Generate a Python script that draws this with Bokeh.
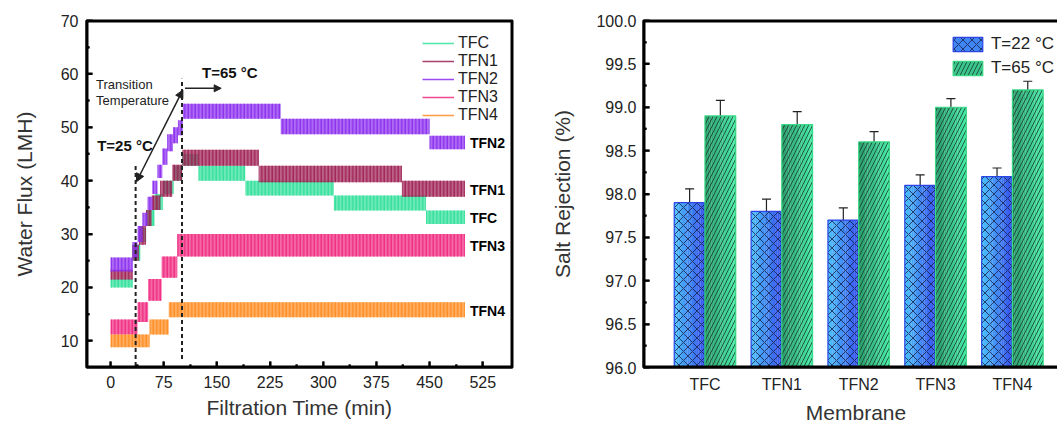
import numpy as np
from bokeh.plotting import figure
from bokeh.layouts import row
from bokeh.models import (Range1d, FixedTicker, Arrow, NormalHead, Legend, LegendItem,
                          Whisker, TeeHead, ColumnDataSource, NumeralTickFormatter)
from bokeh.embed import file_html
from bokeh.resources import INLINE
from bokeh.core.properties import value

FONT = "Liberation Sans"

# ---------------- Left panel data: flux bands (start, end [min], low, high [LMH]) --------------
tfc_start = [0, 31, 42, 50, 62, 74, 89, 101, 124, 190, 315, 445]
tfc_end   = [31, 42, 50, 62, 74, 89, 101, 124, 190, 315, 445, 500]
tfc_low   = [20.0, 25.0, 28.5, 31.5, 34.5, 37.5, 40.0, 42.8, 40.0, 37.2, 34.4, 31.9]
tfc_high  = [21.6, 28.0, 31.2, 34.5, 37.5, 40.0, 42.8, 45.0, 42.8, 40.0, 37.2, 34.4]

tfn1_start = [0, 31, 40, 50, 58, 70, 87, 101, 209, 411]
tfn1_end   = [31, 40, 50, 58, 70, 87, 101, 209, 411, 500]
tfn1_low   = [21.5, 25.0, 28.0, 31.5, 34.5, 37.0, 40.0, 42.8, 39.7, 37.0]
tfn1_high  = [23.3, 28.0, 31.5, 34.5, 37.2, 40.0, 43.0, 45.8, 42.8, 40.0]

tfn2_start = [0, 31, 38, 45, 52, 59, 66, 73, 80, 88, 95, 102, 240, 450]
tfn2_end   = [31, 38, 45, 52, 59, 66, 73, 80, 88, 95, 102, 240, 450, 500]
tfn2_low   = [23.0, 25.5, 28.5, 31.5, 34.5, 37.5, 40.5, 43.0, 45.5, 47.0, 48.5, 51.6, 48.7, 45.9]
tfn2_high  = [25.6, 28.5, 31.5, 34.0, 37.0, 40.0, 43.0, 46.0, 48.7, 50.0, 51.3, 54.4, 51.6, 48.4]

tfn3_start = [0, 38, 53, 72, 94]
tfn3_end   = [38, 53, 72, 94, 500]
tfn3_low   = [11.2, 13.5, 17.5, 21.8, 25.8]
tfn3_high  = [14.0, 17.2, 21.6, 25.8, 30.0]

tfn4_start = [0, 55, 82]
tfn4_end   = [55, 82, 500]
tfn4_low   = [8.8, 11.2, 14.4]
tfn4_high  = [11.2, 14.0, 17.2]

series_names = ["TFC", "TFN1", "TFN2", "TFN3", "TFN4"]
series_colors = ["#2fe09a", "#9e1f52", "#8a2cf0", "#f0287f", "#ff8a1e"]
series_label_y = [33.0, 38.3, 47.1, 27.8, 15.6]

x_ticks_left = [0, 75, 150, 225, 300, 375, 450, 525]
y_ticks_left = [10, 20, 30, 40, 50, 60, 70]

# ---------------- Right panel data ----------------
categories = ["TFC", "TFN1", "TFN2", "TFN3", "TFN4"]
rej_22 = [97.9, 97.8, 97.7, 98.1, 98.2]
err_22 = [0.16, 0.14, 0.14, 0.12, 0.10]
rej_65 = [98.9, 98.8, 98.6, 99.0, 99.2]
err_65 = [0.18, 0.15, 0.12, 0.10, 0.10]
y_ticks_right = [96.0, 96.5, 97.0, 97.5, 98.0, 98.5, 99.0, 99.5, 100.0]

FW1, FH1 = 426, 347
FW2, FH2 = 425, 347
X1 = (-34, 567)
Y1 = (5, 70)
X2 = (0.2, 5.73)
Y2 = (96, 100)


def style_axes(p):
    p.xgrid.visible = False
    p.ygrid.visible = False
    p.border_fill_color = None
    p.background_fill_color = None
    p.outline_line_color = "black"
    p.outline_line_width = 2
    for ax in p.axis:
        ax.axis_line_width = 2
        ax.axis_line_color = "black"
        ax.major_tick_in = 6
        ax.major_tick_out = 0
        ax.minor_tick_in = 3
        ax.minor_tick_out = 0
        ax.major_tick_line_width = 2
        ax.minor_tick_line_width = 2
        ax.major_label_text_font = FONT
        ax.major_label_text_font_size = "16px"
        ax.major_label_text_color = "#222222"
        ax.axis_label_text_font = FONT
        ax.axis_label_text_font_size = "21px"
        ax.axis_label_text_font_style = "normal"
        ax.axis_label_text_color = "#333333"


def draw_frame(p, xr, yr, fw, fh, xt=None, xmt=None, yt=None, ymt=None, right=False):
    """Frame box and inward tick marks drawn as glyphs (tick values come from tick lists)."""
    px = (xr[1] - xr[0]) / fw
    py = (yr[1] - yr[0]) / fh
    p.quad(left=[xr[0]], right=[xr[1]], bottom=[yr[0]], top=[yr[1]], fill_color=None,
           line_color="black", line_width=4)
    segs = []
    if xt:
        segs.append((xt, [yr[0]] * len(xt), xt, [yr[0] + 6 * py] * len(xt)))
    if xmt:
        segs.append((xmt, [yr[0]] * len(xmt), xmt, [yr[0] + 3 * py] * len(xmt)))
    if yt:
        segs.append(([xr[0]] * len(yt), yt, [xr[0] + 6 * px] * len(yt), yt))
        if right:
            segs.append(([xr[1]] * len(yt), yt, [xr[1] - 6 * px] * len(yt), yt))
    if ymt:
        segs.append(([xr[0]] * len(ymt), ymt, [xr[0] + 3 * px] * len(ymt), ymt))
        if right:
            segs.append(([xr[1]] * len(ymt), ymt, [xr[1] - 3 * px] * len(ymt), ymt))
    for a, b, c, d in segs:
        p.segment(x0=a, y0=b, x1=c, y1=d, line_color="black", line_width=2)


# ================= LEFT FIGURE =================
p1 = figure(frame_width=FW1, frame_height=FH1, x_range=Range1d(*X1), y_range=Range1d(*Y1),
            output_backend="svg", toolbar_location=None,
            min_border_left=86, min_border_top=20, min_border_right=36, min_border_bottom=55)
style_axes(p1)
x_minor_left = [t + 37.5 for t in x_ticks_left[:-1]]
y_minor_left = [t + 5 for t in y_ticks_left[:-1]]
p1.xaxis.ticker = FixedTicker(ticks=x_ticks_left, minor_ticks=x_minor_left)
p1.yaxis.ticker = FixedTicker(ticks=y_ticks_left, minor_ticks=y_minor_left)
p1.xaxis.axis_label = "Filtration Time (min)"
p1.yaxis.axis_label = "Water Flux (LMH)"
p1.xaxis.major_label_standoff = 8
p1.yaxis.major_label_standoff = 8
p1.yaxis.axis_label_standoff = 22

all_series = [
    (tfc_start, tfc_end, tfc_low, tfc_high),
    (tfn1_start, tfn1_end, tfn1_low, tfn1_high),
    (tfn2_start, tfn2_end, tfn2_low, tfn2_high),
    (tfn3_start, tfn3_end, tfn3_low, tfn3_high),
    (tfn4_start, tfn4_end, tfn4_low, tfn4_high),
]
legend_items = []
for (st, en, lo, hi), name, col, ly in zip(all_series, series_names, series_colors, series_label_y):
    p1.quad(left=st, right=en, bottom=lo, top=hi, fill_color=col, fill_alpha=0.7,
            line_color=None, hatch_pattern="|", hatch_color=col, hatch_scale=3.5,
            hatch_weight=1.3, hatch_alpha=1.0)
    lr = p1.line(x=[np.nan], y=[np.nan], line_color=col, line_width=1.5, line_alpha=0.85)
    legend_items.append(LegendItem(label=name, renderers=[lr]))
    p1.text(x=[507], y=[ly], text=[name], text_font=value(FONT), text_font_style="bold",
            text_font_size="14px", text_baseline="middle", text_align="left", text_color="black")

leg1 = Legend(items=legend_items, location="top_right", border_line_color=None,
              background_fill_color=None, label_text_font=FONT, label_text_font_size="16px",
              label_text_color="#222222", glyph_width=32, glyph_height=18, label_height=18,
              spacing=0, padding=0, margin=14, label_standoff=4)
p1.add_layout(leg1)

# dashed transition lines
p1.segment(x0=[35.3], y0=[5.3], x1=[35.3], y1=[42.8], line_color="#222222", line_width=2,
           line_dash="4 3")
p1.segment(x0=[100.7], y0=[6.6], x1=[100.7], y1=[59.1], line_color="#222222", line_width=2,
           line_dash="4 3")
# arrows
p1.add_layout(Arrow(start=NormalHead(size=8, fill_color="#222222", line_color="#222222"),
                    end=NormalHead(size=8, fill_color="#222222", line_color="#222222"),
                    x_start=36.5, y_start=39.8, x_end=102.0, y_end=57.0,
                    line_color="#222222", line_width=1.5))
p1.add_layout(Arrow(end=NormalHead(size=7, fill_color="#222222", line_color="#222222"),
                    x_start=105, y_start=57.3, x_end=156, y_end=57.3,
                    line_color="#222222", line_width=1.5))
# annotation texts
p1.text(x=[129], y=[60.3], text=["T=65 °C"], text_font=value(FONT), text_font_style="bold",
        text_font_size="15px", text_baseline="middle", text_align="left", text_color="#111111")
p1.text(x=[-19], y=[46.6], text=["T=25 °C"], text_font=value(FONT), text_font_style="bold",
        text_font_size="15px", text_baseline="middle", text_align="left", text_color="#111111")
p1.text(x=[-20.5, -20.5], y=[58.1, 55.1], text=["Transition", "Temperature"],
        text_font=value(FONT), text_font_size="13px", text_baseline="middle",
        text_align="left", text_color="#222222")

draw_frame(p1, X1, Y1, FW1, FH1, xt=x_ticks_left, xmt=x_minor_left, yt=y_ticks_left,
           ymt=y_minor_left)

# ================= RIGHT FIGURE =================
pos = np.arange(1, len(categories) + 1)
p2 = figure(frame_width=FW2, frame_height=FH2, x_range=Range1d(*X2), y_range=Range1d(*Y2),
            output_backend="svg", toolbar_location=None,
            min_border_left=79, min_border_top=20, min_border_right=5, min_border_bottom=55)
style_axes(p2)
y_minor_right = [t + 0.25 for t in y_ticks_right[:-1]]
p2.yaxis.ticker = FixedTicker(ticks=y_ticks_right, minor_ticks=y_minor_right)
p2.yaxis.formatter = NumeralTickFormatter(format="0.0")
p2.xaxis.ticker = FixedTicker(ticks=[int(i) for i in pos])
p2.xaxis.major_label_overrides = {int(i): c for i, c in zip(pos, categories)}
p2.xaxis.major_tick_in = 0
p2.xaxis.minor_tick_in = 0
p2.xaxis.major_label_standoff = 8
p2.xaxis.axis_label = "Membrane"
p2.yaxis.axis_label = "Salt Rejection (%)"
p2.yaxis.major_label_standoff = 7
p2.yaxis.axis_label_standoff = 19


def lerp_color(c1, c2, f):
    a = [int(c1[i:i + 2], 16) for i in (1, 3, 5)]
    b = [int(c2[i:i + 2], 16) for i in (1, 3, 5)]
    return "#" + "".join(f"{int(round(x + (y - x) * f)):02x}" for x, y in zip(a, b))


bar_w = 0.4
n_strips = 14
groups = [
    (rej_22, err_22, -bar_w / 2, "#4cc2fb", "#3550ee", "x", "#17224a", 9, "#2c44e6", "T=22 °C"),
    (rej_65, err_65, bar_w / 2, "#2a9a6a", "#46eba8", "/", "#1a3a2a", 8, "#38d884", "T=65 °C"),
]
legend2_items = []
for vals, errs, off, c_left, c_right, hp, hc, hs, oc, lab in groups:
    centers = pos + off
    mid_r = None
    for k in range(n_strips):
        f = (k + 0.5) / n_strips
        xs = centers - bar_w / 2 + f * bar_w
        r = p2.vbar(x=xs, width=bar_w / n_strips * 1.08, top=vals, bottom=96,
                    fill_color=lerp_color(c_left, c_right, f), line_color=None)
        if k == n_strips // 2:
            mid_r = r
    hr = p2.vbar(x=centers, width=bar_w, top=vals, bottom=96, fill_color=None,
                 hatch_pattern=hp, hatch_color=hc, hatch_scale=hs, hatch_weight=0.9,
                 hatch_alpha=0.9, line_color=oc, line_width=1.2)
    src = ColumnDataSource(dict(x=centers, upper=np.array(vals) + np.array(errs),
                                lower=np.array(vals) - np.array(errs)))
    p2.add_layout(Whisker(source=src, base="x", upper="upper", lower="lower",
                          line_color="#222222", line_width=1.2,
                          upper_head=TeeHead(size=9, line_color="#222222", line_width=1.2),
                          lower_head=TeeHead(size=9, line_color="#222222", line_width=1.2)))
    legend2_items.append(LegendItem(label=lab, renderers=[mid_r, hr]))

leg2 = Legend(items=legend2_items, location="top_right", border_line_color=None,
              background_fill_color=None, label_text_font=FONT, label_text_font_size="17px",
              label_text_color="#222222", glyph_width=37, glyph_height=18, label_height=18,
              spacing=4, padding=0, margin=14, label_standoff=5)
p2.add_layout(leg2)

draw_frame(p2, X2, Y2, FW2, FH2, yt=y_ticks_right, ymt=y_minor_right, right=True)

layout = row(p1, p2)
open("out.html", "w").write(file_html(layout, INLINE))
